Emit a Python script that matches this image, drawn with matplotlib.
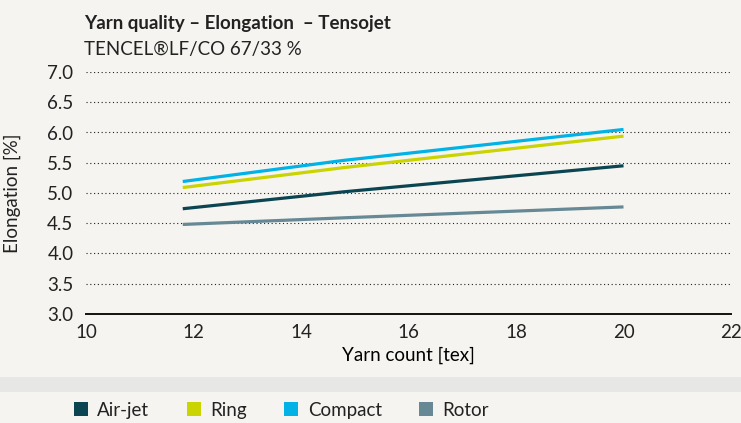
import matplotlib.pyplot as plt
from matplotlib.patches import Rectangle, Patch

# Data
yarn_count = [11.8, 14.8, 20.0]
air_jet = [4.74, 5.02, 5.45]
ring = [5.09, 5.42, 5.94]
compact = [5.19, 5.54, 6.05]
rotor = [4.48, 4.59, 4.77]

series_names = ['Air-jet', 'Ring', 'Compact', 'Rotor']
series_values = [air_jet, ring, compact, rotor]
series_colors = ['#0b4552', '#c9d400', '#00b2e5', '#668995']

x_ticks = [10, 12, 14, 16, 18, 20, 22]
y_ticks = [3.0, 3.5, 4.0, 4.5, 5.0, 5.5, 6.0, 6.5, 7.0]

bg = '#f5f4f0'
plt.rcParams['font.family'] = ['Lato', 'DejaVu Sans']
plt.rcParams['text.color'] = '#222222'
fs = 13.5

W, H = 741, 423
fig = plt.figure(figsize=(W / 100, H / 100), dpi=100, facecolor=bg)
ax = fig.add_axes([86 / W, 1 - 314 / H, (731 - 86) / W, (314 - 72) / H])
ax.set_facecolor(bg)

for name, vals, col in zip(series_names, series_values, series_colors):
    ax.plot(yarn_count, vals, color=col, lw=2.3, solid_capstyle='butt', zorder=3)

ax.set_xlim(10, 22)
ax.set_ylim(3.0, 7.0)
ax.set_xticks(x_ticks)
ax.set_yticks(y_ticks)
ax.set_yticklabels([f'{v:.1f}' for v in y_ticks])
ax.tick_params(length=0, labelsize=fs, colors='#222222')
ax.tick_params(axis='y', pad=9)
ax.tick_params(axis='x', pad=7)

# dotted grid lines
for v in y_ticks[1:]:
    ax.axhline(v, color='#222222', lw=0.8, ls=(0, (1, 2.4)), zorder=1)

for s in ['top', 'right', 'left']:
    ax.spines[s].set_visible(False)
ax.spines['bottom'].set_color('#111111')
ax.spines['bottom'].set_linewidth(1.4)

ax.set_xlabel('Yarn count [tex]', fontsize=fs, labelpad=4)
fig.text(12 / W, 1 - 193 / H, 'Elongation [%]', rotation=90, fontsize=fs,
         ha='center', va='center')

fig.text(84 / W, 1 - 23 / H, 'Yarn quality \u2013 Elongation  \u2013 Tensojet',
         fontsize=fs, fontweight='bold', va='center')
fig.text(84 / W, 1 - 49 / H, 'TENCEL\u00aeLF/CO 67/33 %', fontsize=fs, va='center')

# grey band above the legend
fig.patches.append(Rectangle((0, 1 - 392 / H), 1, 15 / H, transform=fig.transFigure,
                             facecolor='#e7e7e5', edgecolor='none'))

handles = [Patch(facecolor=c, edgecolor='none') for c in series_colors]
fig.legend(handles, series_names, loc='center left', ncol=4, frameon=False,
           bbox_to_anchor=(57 / W, 1 - 410 / H), fontsize=fs,
           handlelength=0.75, handleheight=0.75, handletextpad=0.5, columnspacing=2.0)

fig.savefig('out.png', dpi=100, facecolor=bg)
